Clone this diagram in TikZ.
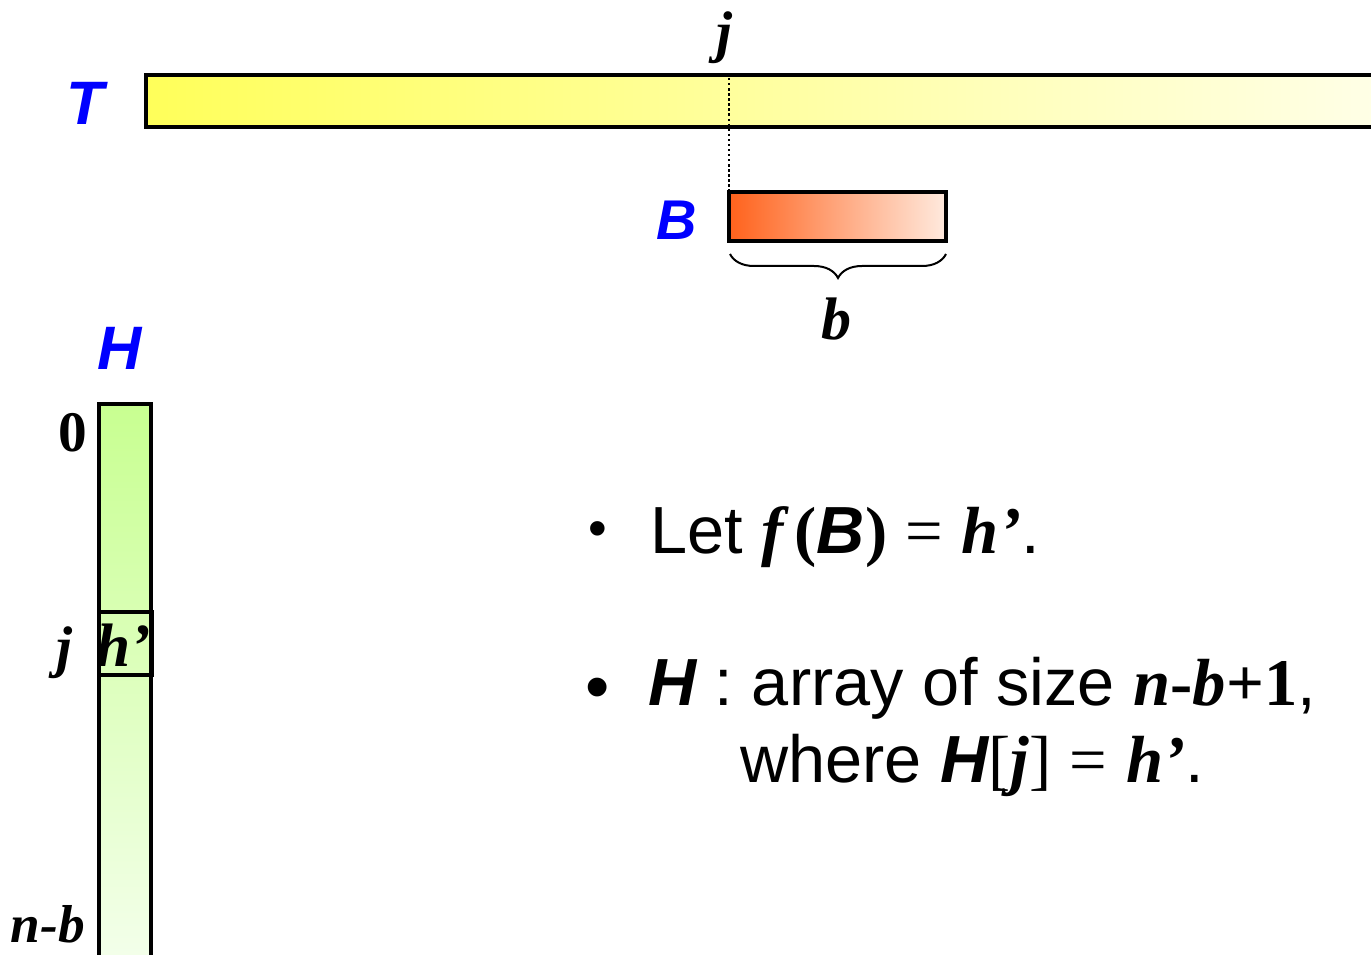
\documentclass[tikz,border=0pt]{standalone}
\usepackage{fontspec}
\setmainfont{Liberation Sans}
\newfontfamily\serifbi{Liberation Serif}
\usetikzlibrary{decorations.pathreplacing}

\definecolor{tyellow}{RGB}{255,255,90}
\definecolor{tpale}{RGB}{255,255,232}
\definecolor{borange}{RGB}{255,98,28}
\definecolor{bpale}{RGB}{255,234,222}
\definecolor{hgreen}{RGB}{200,255,145}
\definecolor{hpale}{RGB}{244,255,236}
\definecolor{lblblue}{RGB}{0,0,255}

\newcommand{\mi}[1]{{\serifbi\bfseries\itshape #1}}
\newcommand{\mb}[1]{{\serifbi\bfseries #1}}
\newcommand{\ms}[1]{{\serifbi #1}}
\newcommand{\sbi}[1]{{\bfseries\itshape #1}}

\tikzset{
  bluelbl/.style={text=lblblue,inner sep=0pt,font=\fontsize{46}{46}\selectfont\bfseries\itshape},
  idxlbl/.style={inner sep=0pt,font=\fontsize{43}{43}\selectfont\serifbi\bfseries\itshape},
  bartext/.style={inner sep=0pt,anchor=base west,font=\fontsize{50}{60}\selectfont},
  dotbullet/.style={inner sep=0pt,anchor=base,font=\fontsize{40}{40}\selectfont},
  barline/.style={draw=black,line width=2.3pt}
}

\begin{document}
\begin{tikzpicture}[x=0.75pt,y=0.75pt,yscale=-1.0,xscale=1.0]
\clip (0,0) rectangle (1371,955);
\fill[white] (0,0) rectangle (1371,955);

% text array T
\shade[left color=tyellow,right color=tpale] (146,75) rectangle (1390,127);
\draw[barline] (146,75) rectangle (1390,127);
\node[bluelbl] (Tlbl) at (85,103) {T};
\node[idxlbl,anchor=base] (jtop) at (724,52) {j};

% block B
\coordinate (Tj) at (729,78);
\coordinate (Bnw) at (729,192);
\coordinate (Bse) at (946,241);
\shade[left color=borange,right color=bpale] (Bnw) rectangle (Bse);
\draw[barline] (Bnw) rectangle (Bse);
\draw[dotted,line width=1.8pt] (Tj) -- (Bnw);
\node[bluelbl,font=\fontsize{42}{42}\selectfont\bfseries\itshape] (Blbl) at (677,220) {B};
\draw[decorate,decoration={brace,mirror,amplitude=18pt},line width=1.5pt] (730,254) -- (946,254);
\node[idxlbl,anchor=base,font=\fontsize{45}{45}\selectfont\serifbi\bfseries\itshape] (blen) at (836,340) {b};

% hash array H
\node[bluelbl] (Hlbl) at (120,348) {H};
\shade[top color=hgreen,bottom color=hpale] (99,404) rectangle (151,970);
\draw[barline] (99,404) rectangle (151,970);
\draw[barline] (99,612) rectangle (152,675);
\node[idxlbl,anchor=base,font=\fontsize{46}{46}\selectfont\serifbi\bfseries\itshape] (hcell) at (124,666) {h’};
\node[idxlbl,anchor=base,font=\fontsize{43}{43}\selectfont\serifbi\bfseries] (zero) at (73,452) {0};
\node[idxlbl,anchor=base] (jleft) at (64,666) {j};
\node[idxlbl,anchor=base,font=\fontsize{40}{40}\selectfont\serifbi\bfseries\itshape] (nb) at (48,942) {n-b};

% description
\node[dotbullet] (dot1) at (598,546) {•};
\node[bartext] (line1) at (650,553) {Let \mi{f}\,\mb{(}\sbi{B}\mb{)} \ms{=} \mi{h’}.};
\node[dotbullet,font=\fontsize{52}{52}\selectfont] (dot2) at (598,710) {•};
\node[bartext] (line2) at (648,705) {\sbi{H} : array of size \mi{n}\mb{-}\mi{b}\mb{+1},};
\node[bartext] (line3) at (740,782) {where \sbi{H}\ms{[}\mi{j}\ms{]} \ms{=} \mi{h’}.};
\end{tikzpicture}
\end{document}
